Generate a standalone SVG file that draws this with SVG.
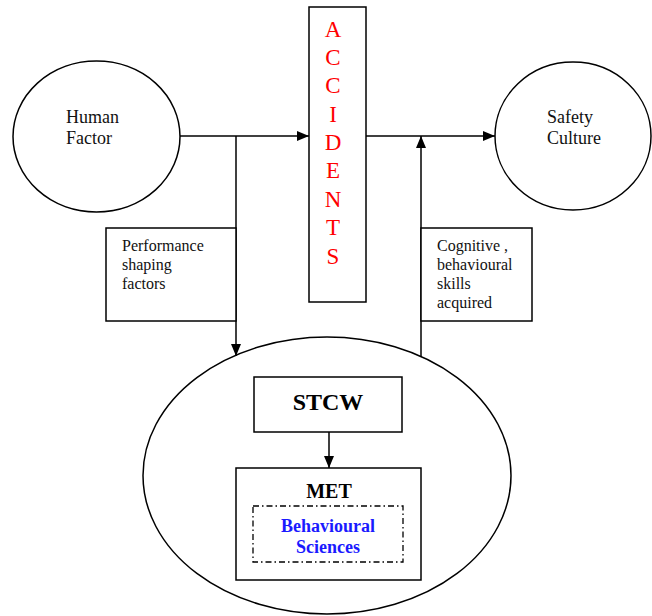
<svg xmlns="http://www.w3.org/2000/svg" width="652" height="616" viewBox="0 0 652 616">
<style>
.s{fill:none;stroke:#000;stroke-width:1.5}
.w{fill:#fff;stroke:#000;stroke-width:1.5}
.t{font-family:"Liberation Serif","Times New Roman",serif;font-size:18px;fill:#111}
.p{font-family:"Liberation Serif","Times New Roman",serif;font-size:16px;fill:#111}
.r{font-family:"Liberation Serif","Times New Roman",serif;font-size:23px;fill:#ff0000;text-anchor:middle}
.b{font-family:"Liberation Serif","Times New Roman",serif;font-weight:bold;text-anchor:middle}
</style>
<defs>
<marker id="ah" markerWidth="12" markerHeight="10" refX="12" refY="5" orient="auto" markerUnits="userSpaceOnUse">
<path d="M0,0 L12,5 L0,10 Z" fill="#000"/>
</marker>
</defs>
<rect width="652" height="616" fill="#fff"/>
<g id="edu">
<ellipse class="w" cx="327" cy="475.5" rx="184" ry="138.5"/>
</g>
<g id="connectors">
<line class="s" x1="180" y1="136" x2="309" y2="136" marker-end="url(#ah)"/>
<line class="s" x1="236" y1="136" x2="236" y2="356" marker-end="url(#ah)"/>
<line class="s" x1="366" y1="136" x2="495" y2="136" marker-end="url(#ah)"/>
<line class="s" x1="421" y1="357" x2="421" y2="136" marker-end="url(#ah)"/>
<line class="s" x1="329" y1="432" x2="329" y2="468" marker-end="url(#ah)"/>
</g>
<g id="human">
<ellipse class="w" cx="96.5" cy="136.5" rx="83.5" ry="75.5"/>
<text class="t" x="66" y="123">Human</text>
<text class="t" x="66" y="144">Factor</text>
</g>
<g id="safety">
<ellipse class="w" cx="573" cy="136" rx="78" ry="74"/>
<text class="t" x="547" y="123">Safety</text>
<text class="t" x="547" y="144">Culture</text>
</g>
<g id="accidents">
<rect class="w" x="309" y="7" width="57" height="295"/>
<text class="r" x="333" y="37">A</text>
<text class="r" x="333" y="65">C</text>
<text class="r" x="333" y="93">C</text>
<text class="r" x="333" y="122">I</text>
<text class="r" x="333" y="150">D</text>
<text class="r" x="333" y="178">E</text>
<text class="r" x="333" y="207">N</text>
<text class="r" x="333" y="235">T</text>
<text class="r" x="333" y="264">S</text>
</g>
<g id="psf">
<rect class="w" x="106" y="228" width="130" height="93"/>
<text class="p" x="122" y="251">Performance</text>
<text class="p" x="122" y="270">shaping</text>
<text class="p" x="122" y="289">factors</text>
</g>
<g id="cog">
<rect class="w" x="421" y="228" width="111" height="93"/>
<text class="p" x="437" y="251">Cognitive ,</text>
<text class="p" x="437" y="270">behavioural</text>
<text class="p" x="437" y="289">skills</text>
<text class="p" x="437" y="308">acquired</text>
</g>
<g id="stcw">
<rect class="w" x="254" y="377" width="148" height="55"/>
<text class="b" x="328" y="410" font-size="24" fill="#000">STCW</text>
</g>
<g id="met">
<rect class="w" x="236" y="468" width="185" height="112"/>
<text class="b" x="329" y="498" font-size="20" fill="#000">MET</text>
<rect x="253" y="506" width="150" height="56" fill="none" stroke="#000" stroke-width="1.3" stroke-dasharray="6,3,1.5,3"/>
<text class="b" x="328" y="532" font-size="18" fill="#1a1aff">Behavioural</text>
<text class="b" x="328" y="553" font-size="18" fill="#1a1aff">Sciences</text>
</g>
</svg>
